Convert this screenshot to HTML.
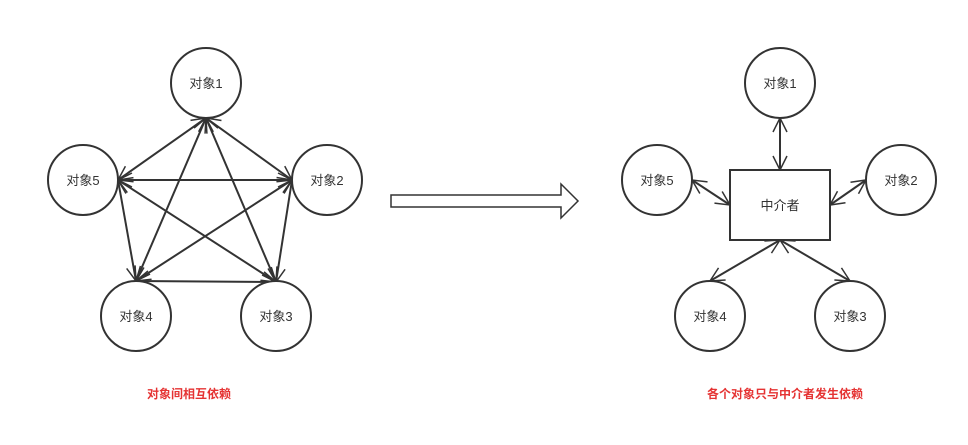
<!DOCTYPE html>
<html><head><meta charset="utf-8"><style>
html,body{margin:0;padding:0;background:#fff;width:968px;height:445px;overflow:hidden}
svg text{font-family:"Liberation Sans","Noto Sans CJK SC",sans-serif}
</style></head><body>
<svg width="968" height="445" viewBox="0 0 968 445">
<defs>
<marker id="arr" viewBox="0 0 16 16" refX="15" refY="8" markerWidth="16" markerHeight="16" markerUnits="userSpaceOnUse" orient="auto-start-reverse">
<path d="M1,1 L15,8 L1,15" fill="none" stroke="#333" stroke-width="1.5"/>
</marker>
</defs>
<g id="left" stroke="#333" stroke-width="2" fill="none"></g>
<g id="right" stroke="#333" stroke-width="2" fill="none"></g>
<rect x="730" y="170" width="100" height="70" fill="#fff" stroke="#333" stroke-width="2"/>
<text x="780" y="210" font-size="13" fill="#333" text-anchor="middle">中介者</text>
<path d="M391,195 L561,195 L561,184 L578,201 L561,218 L561,207 L391,207 Z" fill="#fff" stroke="#333" stroke-width="1.5"/>
<text x="189" y="398" font-size="12" font-weight="bold" fill="#e53333" text-anchor="middle">对象间相互依赖</text>
<text x="785" y="398" font-size="12" font-weight="bold" fill="#e53333" text-anchor="middle">各个对象只与中介者发生依赖</text>
</svg>
<script>
const NS='http://www.w3.org/2000/svg';
const leftNodes=[['对象1',206,83],['对象2',327,180],['对象3',276,316],['对象4',136,316],['对象5',83,180]];
const rightNodes=[['对象1',780,83],['对象2',901,180],['对象3',850,316],['对象4',710,316],['对象5',657,180]];
const R=35;
function line(g,x1,y1,x2,y2,name){
  const l=document.createElementNS(NS,'line');
  l.setAttribute('x1',x1);l.setAttribute('y1',y1);l.setAttribute('x2',x2);l.setAttribute('y2',y2);
  l.setAttribute('marker-start','url(#arr)');l.setAttribute('marker-end','url(#arr)');
  
  
  g.appendChild(l);
}
function node(g,n,name){
  const c=document.createElementNS(NS,'circle');
  c.setAttribute('cx',n[1]);c.setAttribute('cy',n[2]);c.setAttribute('r',R);c.setAttribute('fill','#fff');
  
  
  g.appendChild(c);
  const t=document.createElementNS(NS,'text');
  t.setAttribute('x',n[1]);t.setAttribute('y',n[2]+5);t.setAttribute('text-anchor','middle');
  t.setAttribute('font-size','13');t.setAttribute('fill','#333');t.setAttribute('stroke','none');
  t.textContent=n[0];
  
  
  g.appendChild(t);
}
const L=document.getElementById('left');
const lp=[[206,118],[292,180],[276,282],[136,281],[118,180]];
for(let i=0;i<5;i++)for(let j=i+1;j<5;j++)line(L,lp[i][0],lp[i][1],lp[j][0],lp[j][1],'link-'+(i+1)+'-'+(j+1));
leftNodes.forEach((n,i)=>node(L,n,'left-object-'+(i+1)));
const Rg=document.getElementById('right');
const rl=[[780,118,780,170],[866,180,830,205],[850,281,780,240],[710,281,780,240],[692,180,730,205]];
rl.forEach((s,i)=>line(Rg,s[0],s[1],s[2],s[3],'mediator-link-'+(i+1)));
rightNodes.forEach((n,i)=>node(Rg,n,'right-object-'+(i+1)));
</script>
</body></html>
